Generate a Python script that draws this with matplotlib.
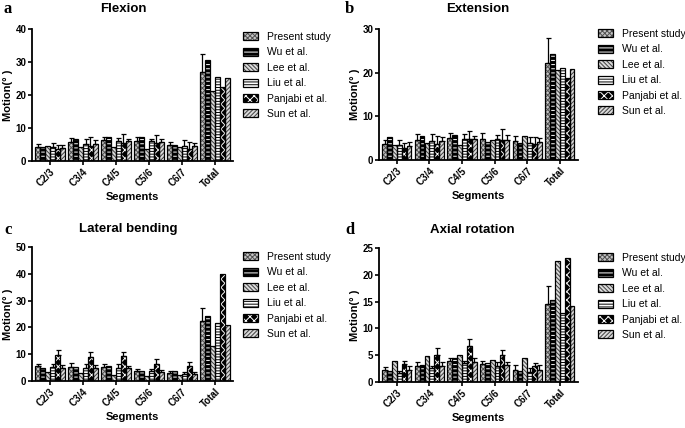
import matplotlib
matplotlib.use("Agg")
import matplotlib.pyplot as plt
import numpy as np
from matplotlib.patches import Patch
from matplotlib.legend_handler import HandlerTuple

plt.rcParams['font.family'] = ['Liberation Sans', 'DejaVu Sans']
plt.rcParams['hatch.linewidth'] = 0.7

segments = ["C2/3", "C3/4", "C4/5", "C5/6", "C6/7", "Total"]
studies = ["Present study", "Wu et al.", "Lee et al.", "Liu et al.", "Panjabi et al.", "Sun et al."]

# Flexion
flex_present = [4.3, 5.6, 6.2, 6.1, 4.8, 27.0]
flex_wu = [4.1, 6.6, 7.4, 7.3, 4.8, 30.7]
flex_lee = [4.6, 4.3, 4.2, 3.6, 4.3, 21.2]
flex_liu = [4.2, 5.0, 5.9, 5.9, 4.5, 25.6]
flex_panjabi = [3.5, 4.4, 5.3, 5.5, 3.7, 22.4]
flex_sun = [3.9, 5.2, 5.9, 5.8, 4.5, 25.2]
flex_err_present = [0.9, 1.4, 1.0, 1.2, 1.0, 5.5]
flex_err_liu = [1.1, 1.7, 1.1, 0.9, 1.7, 0]
flex_err_panjabi = [1.3, 2.8, 3.0, 2.5, 2.1, 0]
flex_err_sun = [0.8, 1.2, 0.9, 1.0, 0.8, 0]

# Extension
ext_present = [3.6, 4.6, 5.1, 4.9, 4.3, 22.3]
ext_wu = [5.2, 5.5, 5.7, 4.1, 3.9, 24.3]
ext_lee = [3.5, 3.8, 3.5, 4.5, 5.5, 20.7]
ext_liu = [3.4, 4.4, 4.9, 4.9, 3.8, 21.2]
ext_panjabi = [2.8, 3.6, 4.9, 4.5, 3.6, 18.8]
ext_sun = [3.3, 4.3, 4.8, 4.7, 4.1, 20.9]
ext_err_present = [0.9, 1.3, 1.1, 1.2, 1.1, 5.6]
ext_err_liu = [1.2, 1.6, 1.1, 0.9, 1.5, 0]
ext_err_panjabi = [1.0, 1.9, 1.8, 2.7, 1.7, 0]
ext_err_sun = [0.8, 1.0, 0.8, 1.0, 1.0, 0]

# Lateral bending
lat_present = [5.5, 5.3, 5.1, 3.7, 2.9, 22.3]
lat_wu = [5.0, 5.3, 5.5, 3.9, 3.6, 24.3]
lat_lee = [3.2, 2.9, 2.2, 1.8, 2.1, 12.9]
lat_liu = [5.3, 5.0, 5.0, 3.6, 2.6, 21.7]
lat_panjabi = [9.7, 9.0, 9.4, 6.5, 5.5, 39.9]
lat_sun = [5.0, 4.9, 4.7, 3.5, 2.6, 20.8]
lat_err_present = [1.0, 1.3, 1.3, 0.9, 0.7, 5.1]
lat_err_liu = [1.0, 1.5, 1.3, 0.9, 0.6, 0]
lat_err_panjabi = [1.8, 2.0, 1.6, 1.7, 1.5, 0]
lat_err_sun = [1.0, 0.9, 1.0, 0.7, 0.6, 0]

# Axial rotation
ax_present = [2.2, 3.0, 3.9, 3.3, 2.3, 14.6]
ax_wu = [2.1, 3.1, 4.4, 3.6, 2.0, 15.3]
ax_lee = [4.0, 4.9, 5.1, 4.1, 4.4, 22.6]
ax_liu = [1.7, 2.6, 3.6, 3.0, 1.9, 12.9]
ax_panjabi = [3.3, 5.1, 6.8, 5.0, 2.9, 23.1]
ax_sun = [2.2, 3.0, 3.8, 3.2, 2.2, 14.2]
ax_err_present = [0.6, 0.7, 0.6, 0.6, 0.9, 3.4]
ax_err_liu = [0.4, 0.4, 0.4, 0.7, 0.8, 0]
ax_err_panjabi = [0.7, 1.2, 1.3, 1.0, 0.7, 0]
ax_err_sun = [0.8, 0.8, 0.6, 0.6, 0.9, 0]

zeros = [0] * 6

panels = [
    dict(letter="a", title="Flexion", ymax=40, yticks=[0, 10, 20, 30, 40],
         vals=[flex_present, flex_wu, flex_lee, flex_liu, flex_panjabi, flex_sun],
         errs=[flex_err_present, zeros, zeros, flex_err_liu, flex_err_panjabi, flex_err_sun],
         rect=[0.0467, 0.624, 0.2934, 0.308], title_xy=(123, 9), letter_xy=(4, 9), leg_xy=(243, 32)),
    dict(letter="b", title="Extension", ymax=30, yticks=[0, 10, 20, 30],
         vals=[ext_present, ext_wu, ext_lee, ext_liu, ext_panjabi, ext_sun],
         errs=[ext_err_present, zeros, zeros, ext_err_liu, ext_err_panjabi, ext_err_sun],
         rect=[0.553, 0.626, 0.2905, 0.306], title_xy=(478, 9), letter_xy=(345, 9), leg_xy=(598, 29)),
    dict(letter="c", title="Lateral bending", ymax=50, yticks=[0, 10, 20, 30, 40, 50],
         vals=[lat_present, lat_wu, lat_lee, lat_liu, lat_panjabi, lat_sun],
         errs=[lat_err_present, zeros, zeros, lat_err_liu, lat_err_panjabi, lat_err_sun],
         rect=[0.0467, 0.1098, 0.2934, 0.313], title_xy=(128, 229), letter_xy=(4, 230), leg_xy=(243, 252)),
    dict(letter="d", title="Axial rotation", ymax=25, yticks=[0, 5, 10, 15, 20, 25],
         vals=[ax_present, ax_wu, ax_lee, ax_liu, ax_panjabi, ax_sun],
         errs=[ax_err_present, zeros, zeros, ax_err_liu, ax_err_panjabi, ax_err_sun],
         rect=[0.553, 0.1075, 0.2905, 0.313], title_xy=(472, 230), letter_xy=(345, 230), leg_xy=(598, 253)),
]

# fill colour, hatch pattern, hatch colour
styles = [
    ("#c4c4c4", "xxxxxxx", "#505050"),
    ("black", "----", "white"),
    ("#dadada", "\\\\\\\\\\\\\\\\", "#404040"),
    ("white", "------", "black"),
    ("black", "xxxx", "white"),
    ("#dadada", "////////", "#404040"),
]

W, H = 685, 428
fig = plt.figure(figsize=(6.85, 4.28), dpi=100)

x = np.arange(len(segments))
bw = 0.145
for p in panels:
    ax = fig.add_axes(p["rect"])
    for i, (v, e) in enumerate(zip(p["vals"], p["errs"])):
        fc, hp, hc = styles[i]
        pos = x + (i - 2.5) * 0.15
        ax.bar(pos, v, width=bw, facecolor=fc, edgecolor=hc, hatch=hp, linewidth=0, zorder=2)
        ax.bar(pos, v, width=bw, fill=False, edgecolor="black", linewidth=0.9, zorder=2.5)
        e_arr = np.array(e, dtype=float)
        mask = e_arr > 0
        if mask.any():
            ax.errorbar(pos[mask], np.array(v)[mask], yerr=[np.zeros(mask.sum()), e_arr[mask]],
                        fmt="none", ecolor="black", elinewidth=0.9, capsize=1.8, capthick=0.9, zorder=3)
    ax.set_xlim(-0.55, 5.55)
    ax.set_ylim(0, p["ymax"])
    ax.set_yticks(p["yticks"])
    ax.set_xticks(x)
    ax.set_xticklabels(segments, rotation=45, ha="right", rotation_mode="anchor",
                       fontsize=7, fontweight="bold")
    for lab in ax.get_yticklabels():
        lab.set_fontsize(7)
        lab.set_fontweight("bold")
    ax.spines["top"].set_visible(False)
    ax.spines["right"].set_visible(False)
    ax.spines["left"].set_linewidth(1.3)
    ax.spines["bottom"].set_linewidth(1.3)
    ax.tick_params(width=1.2, length=3, pad=1)
    ax.set_xlabel("Segments", fontsize=8, fontweight="bold", labelpad=2)
    ax.set_ylabel("Motion(° )", fontsize=8, fontweight="bold", labelpad=2)
    fig.text(p["title_xy"][0] / W, 1 - p["title_xy"][1] / H, p["title"], fontsize=9.5,
             fontweight="bold", ha="center", va="center")
    fig.text(p["letter_xy"][0] / W, 1 - p["letter_xy"][1] / H, p["letter"], fontsize=12,
             fontweight="bold", family=["Liberation Serif"], ha="left", va="center")
    handles = [(Patch(facecolor=fc, edgecolor=hc, hatch=hp, linewidth=0),
                Patch(fill=False, edgecolor="black", linewidth=0.9)) for fc, hp, hc in styles]
    fig.legend(handles, studies, loc="upper left",
               bbox_to_anchor=(p["leg_xy"][0] / W, 1 - p["leg_xy"][1] / H),
               handler_map={tuple: HandlerTuple(ndivide=1, pad=0)},
               frameon=False, fontsize=7.5, handlelength=1.4, handleheight=0.8,
               labelspacing=0.52, handletextpad=0.9, borderaxespad=0, borderpad=0)

fig.savefig("out.png", dpi=100)
